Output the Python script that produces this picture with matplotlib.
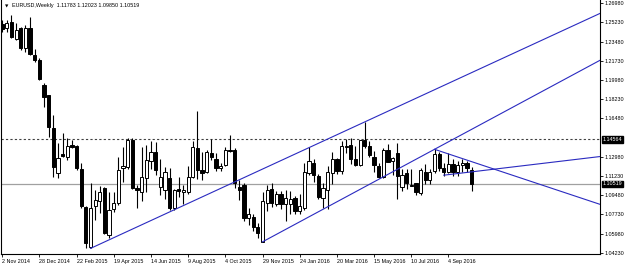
import matplotlib
matplotlib.use("Agg")
import matplotlib.pyplot as plt
import matplotlib.transforms as mtransforms
from matplotlib.patches import Rectangle

plt.rcParams['font.family'] = ['Liberation Sans', 'DejaVu Sans']

# weekly EURUSD candles, first bar = week of 2 Nov 2014
opens = [1.2510, 1.2470, 1.2527, 1.2372, 1.2473, 1.2290, 1.2473, 1.2227, 1.2181, 1.1953,
         1.1862, 1.1561, 1.1151, 1.1324, 1.1297, 1.1406, 1.1397, 1.1183, 1.0838, 1.0479,
         1.0850, 1.0890, 1.1011, 1.0586, 1.0820, 1.0875, 1.1197, 1.1208, 1.1452, 1.1011,
         1.0981, 1.1106, 1.1260, 1.1344, 1.1026, 1.0996, 1.1102, 1.0829, 1.1000, 1.0980,
         1.0981, 1.1117, 1.1376, 1.1178, 1.1162, 1.1335, 1.1276, 1.1194, 1.1224, 1.1361,
         1.1361, 1.1026, 1.1042, 1.0738, 1.0753, 1.0656, 1.0525, 1.0875, 1.1002, 1.0865,
         1.0960, 1.0868, 1.0868, 1.0920, 1.0805, 1.0829, 1.1148, 1.1245, 1.1124, 1.0920,
         1.0996, 1.1154, 1.1276, 1.1165, 1.1390, 1.1405, 1.1280, 1.1225, 1.1450, 1.1400,
         1.1300, 1.1215, 1.1115, 1.1361, 1.1262, 1.1335, 1.1026, 1.1148, 1.1042, 1.1057,
         1.0966, 1.1162, 1.1087, 1.1165, 1.1324, 1.1198, 1.1155, 1.1233, 1.1155, 1.1226,
         1.1240, 1.11783]
highs = [1.2546, 1.2546, 1.2591, 1.2518, 1.2480, 1.2500, 1.2573, 1.2281, 1.2199, 1.1971,
         1.1862, 1.1680, 1.1425, 1.1516, 1.1470, 1.1452, 1.1406, 1.1245, 1.0850, 1.1057,
         1.0996, 1.1033, 1.1020, 1.0981, 1.0981, 1.1300, 1.1391, 1.1466, 1.1466, 1.1042,
         1.1385, 1.1406, 1.1440, 1.1435, 1.1280, 1.1208, 1.1200, 1.1000, 1.1117, 1.1040,
         1.1215, 1.1440, 1.1719, 1.1344, 1.1360, 1.1460, 1.1331, 1.1240, 1.1390, 1.1495,
         1.1375, 1.1087, 1.1060, 1.0830, 1.0775, 1.0690, 1.0980, 1.1042, 1.1060, 1.0990,
         1.0990, 1.0996, 1.0990, 1.0940, 1.0960, 1.1240, 1.1385, 1.1280, 1.1140, 1.1057,
         1.1218, 1.1342, 1.1290, 1.1440, 1.1460, 1.1465, 1.1395, 1.1450, 1.1616, 1.1445,
         1.1350, 1.1240, 1.1375, 1.1415, 1.1300, 1.1424, 1.1185, 1.1185, 1.1185, 1.1060,
         1.1200, 1.1235, 1.1185, 1.1366, 1.1345, 1.1240, 1.1330, 1.1280, 1.1260, 1.1280,
         1.1260, 1.12023]
lows = [1.2439, 1.2440, 1.2381, 1.2363, 1.2272, 1.2254, 1.2227, 1.2163, 1.2000, 1.1752,
        1.1479, 1.1114, 1.1106, 1.1297, 1.1270, 1.1379, 1.1178, 1.0829, 1.0465, 1.0462,
        1.0723, 1.0786, 1.0590, 1.0556, 1.0798, 1.0859, 1.1072, 1.1190, 1.1000, 1.0829,
        1.0890, 1.0979, 1.1190, 1.1130, 1.0950, 1.0915, 1.0810, 1.0810, 1.0930, 1.0870,
        1.0960, 1.1100, 1.1094, 1.1090, 1.1150, 1.1270, 1.1170, 1.1170, 1.1210, 1.1340,
        1.1010, 1.0905, 1.0710, 1.0675, 1.0620, 1.0560, 1.0522, 1.0800, 1.0840, 1.0850,
        1.0820, 1.0710, 1.0780, 1.0780, 1.0780, 1.0810, 1.1133, 1.1065, 1.0915, 1.0829,
        1.0825, 1.1050, 1.1140, 1.1145, 1.1335, 1.1235, 1.1215, 1.1215, 1.1380, 1.1300,
        1.1160, 1.1100, 1.1100, 1.1250, 1.1130, 1.0912, 1.0990, 1.1000, 1.1030, 1.0952,
        1.0950, 1.1045, 1.1045, 1.1150, 1.1165, 1.1125, 1.1150, 1.1120, 1.1120, 1.1160,
        1.1160, 1.09850]
closes = [1.2462, 1.2518, 1.2391, 1.2455, 1.2290, 1.2473, 1.2236, 1.2181, 1.2008, 1.1844,
          1.1570, 1.1205, 1.1288, 1.1306, 1.1397, 1.1388, 1.1197, 1.0850, 1.0510, 1.0829,
          1.0905, 1.0981, 1.0601, 1.0814, 1.0880, 1.1178, 1.1215, 1.1452, 1.1011, 1.0996,
          1.1117, 1.1270, 1.1344, 1.1178, 1.1117, 1.1162, 1.0829, 1.0996, 1.0985, 1.0992,
          1.1117, 1.1391, 1.1178, 1.1148, 1.1344, 1.1298, 1.1194, 1.1215, 1.1361, 1.1350,
          1.1055, 1.0996, 1.0738, 1.0774, 1.0656, 1.0601, 1.0890, 1.0996, 1.0875, 1.0960,
          1.0868, 1.0920, 1.0915, 1.0805, 1.0850, 1.1162, 1.1263, 1.1133, 1.0930, 1.1011,
          1.1162, 1.1276, 1.1165, 1.1397, 1.1400, 1.1280, 1.1225, 1.1450, 1.1400, 1.1310,
          1.1220, 1.1115, 1.1361, 1.1254, 1.1283, 1.1120, 1.1133, 1.1057, 1.1030, 1.0981,
          1.1178, 1.1087, 1.1162, 1.1324, 1.1198, 1.1155, 1.1233, 1.1155, 1.1226, 1.1240,
          1.1200, 1.10519]

date_labels = ["2 Nov 2014", "28 Dec 2014", "22 Feb 2015", "19 Apr 2015", "14 Jun 2015",
               "9 Aug 2015", "4 Oct 2015", "29 Nov 2015", "24 Jan 2016", "20 Mar 2016",
               "15 May 2016", "10 Jul 2016", "4 Sep 2016"]
date_bars = [0, 8, 16, 24, 32, 40, 48, 56, 64, 72, 80, 88, 96]

price_ticks = [1.26980, 1.25230, 1.23480, 1.21730, 1.19980, 1.18230, 1.16480,
               1.12980, 1.11230, 1.09480, 1.07730, 1.05980, 1.04230]

# trend lines: (bar1, price1, bar2, price2), extended to the right edge
trend_lines = [(19, 1.0462, 78, 1.1616),
               (56, 1.0522, 93, 1.1366),
               (93, 1.1366, 128.6, 1.0864),
               (95, 1.1130, 128.6, 1.1300)]
hline_level = 1.14564
bid_level = 1.10519
title = "EURUSD,Weekly  1.11783 1.12023 1.09850 1.10519"

fs = 3.9

fig = plt.figure(figsize=(6.25, 2.66), dpi=100)
ax = fig.add_axes([1.5 / 625, 12 / 266, 598.5 / 625, 1 - 12 / 266])

x_left, x_right = -0.15, 128.6
ax.set_xlim(x_left, x_right)
ax.set_ylim(1.0411, 1.2728)

w = 0.7
for i, (o, h, l, c) in enumerate(zip(opens, highs, lows, closes)):
    ax.vlines(i, l, h, color='black', lw=0.8, zorder=3)
    bull = c >= o
    ax.add_patch(Rectangle((i - w / 2, min(o, c)), w, max(abs(c - o), 0.00005),
                           facecolor='white' if bull else 'black',
                           edgecolor='black', lw=0.7, zorder=4))

for b1, p1, b2, p2 in trend_lines:
    slope = (p2 - p1) / (b2 - b1)
    ax.plot([b1, x_right], [p1, p1 + slope * (x_right - b1)], color='#2a2ac0', lw=0.8, zorder=5)

ax.axhline(hline_level, color='#404040', lw=0.8, ls=(0, (2, 2)), zorder=2)
ax.axhline(bid_level, color='#a0a0a0', lw=0.9, zorder=2)

ax.yaxis.tick_right()
ax.set_yticks(price_ticks)
ax.set_yticklabels(["%.5f" % p for p in price_ticks])
ax.tick_params(axis='y', labelsize=fs, length=2, width=0.6, pad=1, direction='out')
ax.set_xticks(date_bars)
ax.set_xticklabels(date_labels)
ax.tick_params(axis='x', labelsize=fs, length=2.5, width=0.6, pad=1.2, direction='out')
for lab in ax.get_xticklabels():
    lab.set_horizontalalignment('left')

for s in ax.spines.values():
    s.set_linewidth(0.8)
ax.spines['top'].set_visible(False)

trans = mtransforms.blended_transform_factory(ax.transAxes, ax.transData)
for lvl in (hline_level, bid_level):
    ax.text(1.0045, lvl, "%.5f" % lvl, transform=trans, fontsize=fs, color='white',
            va='center', ha='left', zorder=10, clip_on=False,
            bbox=dict(facecolor='black', edgecolor='black', pad=0.5))

fig.text(5 / 625, 1 - 6 / 266, "\u25BC", fontsize=3.2, va='center', ha='left',
         family=['DejaVu Sans'])
fig.text(12 / 625, 1 - 6 / 266, title, fontsize=fs, va='center', ha='left')

fig.savefig("out.png", dpi=100, facecolor='white')
